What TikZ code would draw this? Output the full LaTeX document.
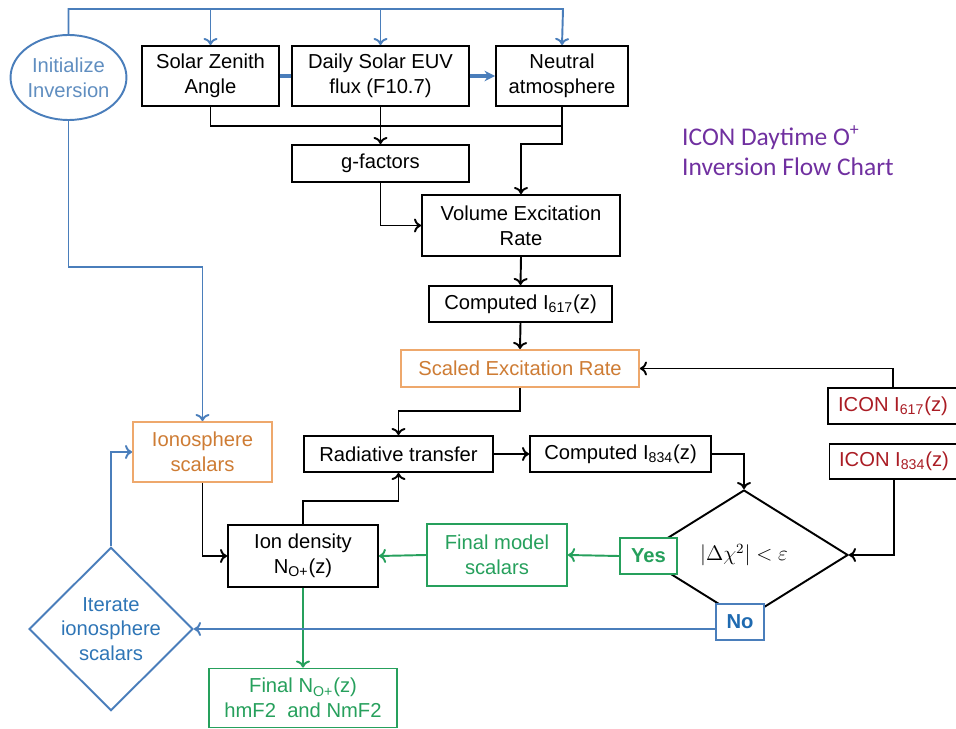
\documentclass[tikz,border=0pt]{standalone}
\usepackage{fontspec}
\setmainfont{Liberation Sans}
\newfontfamily\titlefont{Carlito}
\usetikzlibrary{shapes.geometric,calc,arrows.meta}
\definecolor{lineblue}{RGB}{74,126,187}
\definecolor{initblue}{RGB}{96,142,192}
\definecolor{iterblue}{RGB}{46,117,182}
\definecolor{noblue}{RGB}{31,106,176}
\definecolor{boxorange}{RGB}{238,168,108}
\definecolor{txtorange}{RGB}{206,124,52}
\definecolor{flowgreen}{RGB}{38,160,92}
\definecolor{iconred}{RGB}{170,28,36}
\definecolor{titlepurple}{RGB}{112,48,160}
\tikzset{
	box/.style={draw, line width=1.1pt, fill=white, align=center, inner sep=2pt, font=\fontsize{11.5}{14}\selectfont},
	blkbox/.style={box, draw=black},
	orgbox/.style={box, draw=boxorange, text=txtorange},
	grnbox/.style={box, draw=flowgreen, text=flowgreen},
	redbox/.style={box, draw=black, text=iconred},
	conn/.style={line width=1.1pt, -{To[length=4pt,width=8pt]}},
	bconn/.style={line width=1.1pt, draw=lineblue, -{To[length=4pt,width=8pt]}},
	gconn/.style={line width=1.1pt, draw=flowgreen, -{To[length=4pt,width=8pt]}}
}
\begin{document}
\begin{tikzpicture}[x=0.02cm, y=-0.02cm]
		\useasboundingbox (0,0) rectangle (956,729);
		% inputs along the top
		\node[draw=lineblue, line width=1.1pt, ellipse, minimum width=2.26cm, minimum height=1.7cm, inner sep=0pt, align=center, text=initblue, font=\fontsize{11.5}{14}\selectfont] (init) at (68.5,77.5) {Initialize\\Inversion};
		\node[blkbox, minimum width=2.74cm, minimum height=1.2cm] (sza) at (210.5,76) {Solar Zenith\\Angle};
		\node[blkbox, minimum width=3.54cm, minimum height=1.2cm] (euv) at (380.5,76) {Daily Solar EUV\\flux (F10.7)};
		\node[blkbox, minimum width=2.64cm, minimum height=1.2cm] (neut) at (562,76) {Neutral\\atmosphere};
		% forward model
		\node[blkbox, minimum width=3.54cm, minimum height=0.74cm] (gfac) at (380.5,163.5) {g-factors};
		\node[blkbox, minimum width=3.96cm, minimum height=1.22cm] (ver) at (521,225.5) {Volume Excitation\\Rate};
		\node[blkbox, minimum width=3.66cm, minimum height=0.72cm] (ci617) at (520.5,304) {Computed I\textsubscript{617}(z)};
		\node[orgbox, minimum width=4.76cm, minimum height=0.74cm] (ser) at (520,368.5) {Scaled Excitation Rate};
		\node[redbox, minimum width=2.6cm, minimum height=0.72cm] (icon617) at (893,406) {ICON I\textsubscript{617}(z)};
		\node[redbox, minimum width=2.58cm, minimum height=0.70cm] (icon834) at (894,461.5) {ICON I\textsubscript{834}(z)};
		\node[blkbox, minimum width=3.78cm, minimum height=0.72cm] (rad) at (398.5,454) {Radiative transfer};
		\node[blkbox, minimum width=3.62cm, minimum height=0.72cm] (ci834) at (620.5,454) {Computed I\textsubscript{834}(z)};
		% the convergence test
		\node[draw, diamond, line width=1.1pt, minimum width=4.16cm, minimum height=2.6cm, inner sep=0pt, font=\fontsize{12}{14}\selectfont] (chk) at (744,555) {$\left|\Delta\chi^2\right| < \varepsilon$};
		\node[grnbox, font=\fontsize{11.5}{14}\selectfont\bfseries, minimum width=1.14cm, minimum height=0.72cm] (yes) at (648.5,556) {Yes};
		\node[box, draw=lineblue, text=noblue, font=\fontsize{11.5}{14}\selectfont\bfseries, minimum width=0.96cm, minimum height=0.72cm] (no) at (740,622) {No};
		% ion side
		\node[grnbox, minimum width=2.8cm, minimum height=1.24cm] (fms) at (497,555) {Final model\\scalars};
		\node[blkbox, minimum width=3cm, minimum height=1.24cm] (ion) at (303,556) {Ion density\\N\textsubscript{O+}(z)};
		\node[orgbox, minimum width=2.78cm, minimum height=1.2cm] (ios) at (202.5,452) {Ionosphere\\scalars};
		\node[grnbox, minimum width=3.76cm, minimum height=1.18cm] (final) at (303,698) {Final N\textsubscript{O+}(z)\\hmF2\ \ and NmF2};
		\node[draw=lineblue, line width=1.1pt, diamond, minimum width=3.28cm, minimum height=2.68cm, inner sep=0pt, align=center, text=iterblue, font=\fontsize{11.5}{14}\selectfont] (iter) at (111,629) {Iterate\\ionosphere\\scalars};
		% title
		\node[anchor=west, align=left, text=titlepurple, font=\titlefont\fontsize{14.5}{17.5}\selectfont] (title) at (676,151) {ICON Daytime O\textsuperscript{+}\\Inversion Flow Chart};
		% blue start lines
		\coordinate (tl) at (563,9);
		\draw[bconn] (init.north) |- (tl) -- (neut.north);
		\draw[bconn] (sza.north |- tl) -- (sza.north);
		\draw[bconn] (euv.north |- tl) -- (euv.north);
		\draw[draw=lineblue, line width=2.2pt] (sza.east) -- (euv.west);
		\draw[draw=lineblue, line width=2.2pt, -{Stealth[length=6pt,width=6pt]}] (euv.east) -- (neut.west);
		\draw[bconn] (init.south) |- ($(ios.north)+(0,-154)$) -- (ios.north);
		% black forward chain
		\coordinate (j1) at (0,126);
		\draw[line width=1.1pt] (sza.south) |- (neut.south |- j1);
		\draw[conn] (euv.south) -- (gfac.north);
		\draw[conn] (neut.south) |- ($(ver.north)+(0,-50)$) -- (ver.north);
		\draw[conn] (gfac.south) |- (ver.west);
		\draw[conn] (ver.south) -- (ci617.north);
		\draw[conn] (ci617.south) -- (ser.north);
		\draw[conn] (icon617.north) |- (ser.east);
		\draw[conn] (ser.south) |- ($(rad.north)+(0,-24)$) -- (rad.north);
		\draw[conn] (rad.east) -- (ci834.west);
		\draw[conn] (ci834.east) -| (chk.north);
		\draw[conn] (icon834.south) |- (chk.east);
		\draw[conn] (ion.north) |- ($(rad.south)+(0,28)$) -- (rad.south);
		\draw[conn] (ios.south) |- (ion.west);
		% green results
		\draw[gconn] (yes.west) -- (fms.east);
		\draw[gconn] (fms.west) -- (ion.east);
		\draw[gconn] (ion.south) -- (final.north);
		% blue iteration loop
		\draw[bconn] (no.west |- iter.east) -- (iter.east);
		\draw[bconn] (iter.north) |- (ios.west);
	\end{tikzpicture}
\end{document}
